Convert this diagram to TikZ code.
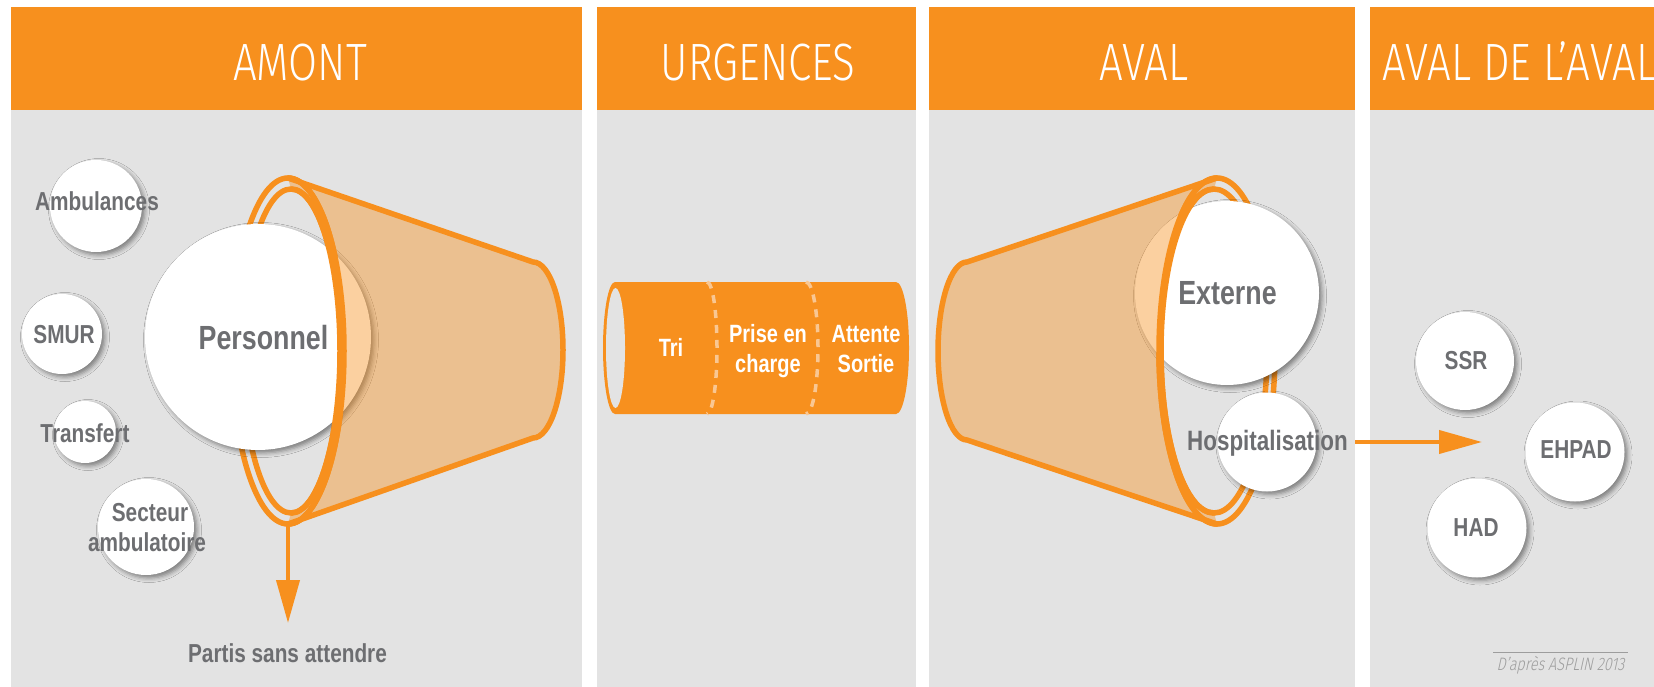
\documentclass[tikz,border=0pt]{standalone}
\usepackage{fontspec}
\usetikzlibrary{arrows.meta,shadows.blur}
\newfontfamily\labelfont[FakeStretch=0.8]{Liberation Sans}
\newfontfamily\headfont[FakeStretch=0.8]{Fira Sans Light}
\newfontfamily\creditfont[FakeStretch=0.8,FakeSlant=0.22]{Fira Sans Light}
\definecolor{brand}{HTML}{F7901E}
\definecolor{panel}{HTML}{E3E3E3}
\definecolor{ink}{HTML}{6D6E71}
\definecolor{dashc}{HTML}{F9C793}
\definecolor{creditc}{HTML}{9D9D9D}
\begin{document}
\begin{tikzpicture}[x=1pt,y=-1pt,
  title/.style={text=white,font=\headfont\fontsize{52.5}{56}\selectfont,inner sep=0pt,anchor=base},
  lbl/.style={text=ink,font=\labelfont\bfseries\fontsize{26}{30}\selectfont,inner sep=0pt,anchor=base},
  biglbl/.style={lbl,font=\labelfont\bfseries\fontsize{33.5}{38}\selectfont},
  tubelbl/.style={lbl,text=white,font=\labelfont\bfseries\fontsize{25}{30}\selectfont},
  bubble/.style={circle,fill=white,inner sep=0pt,
    blur shadow={shadow xshift=3pt,shadow yshift=-3pt,shadow blur radius=4.5pt,shadow opacity=45}},
  ring/.style={draw=brand,line width=5.5pt},
  conefill/.style={fill=brand,fill opacity=0.42},
  coneline/.style={draw=brand,line width=5.5pt,line join=round,line cap=round},
  flow/.style={draw=brand,line width=4pt,-{Triangle[length=43pt,width=23pt]}},
  divider/.style={draw=dashc,line width=3.5pt,dash pattern=on 8pt off 7pt}]
\useasboundingbox (0,0) rectangle (1654,687);
\clip (0,0) rectangle (1654,687);

% column backgrounds and header bars
\foreach \a/\b in {11/582, 597/916, 929/1355, 1370/1700} {
  \fill[brand] (\a,7) rectangle (\b,110);
  \fill[panel] (\a,110) rectangle (\b,687);
}
\node[title] (hAmont) at (300,81) {AMONT};
\node[title] (hUrg) at (758,81) {URGENCES};
\node[title] (hAval) at (1144,81) {AVAL};
\node[title,anchor=base west] (hAvalAval) at (1382,81) {AVAL DE L’AVAL};

% ---- AMONT : entry funnel ----
\draw[ring] (288,351) ellipse [x radius=56pt, y radius=173pt];
\draw[ring] (291,351) ellipse [x radius=49pt, y radius=162pt];

\node[bubble,minimum size=92pt] (amb) at (96,206) {};
\node[bubble,minimum size=80pt] (smur) at (62,334) {};
\node[bubble,minimum size=62pt] (transf) at (85,432) {};
\node[bubble,minimum size=96pt] (sect) at (146,527) {};
\node[bubble,minimum size=226pt] (pers) at (258,337) {};

\fill[conefill] (288,178) -- (533,262)
  arc[start angle=90, end angle=-90, x radius=30pt, y radius=88pt]
  -- (288,524) -- (291,513)
  arc[start angle=-90, end angle=90, x radius=49pt, y radius=162pt] -- cycle;
\draw[coneline] (288,178) -- (533,262)
  arc[start angle=90, end angle=-90, x radius=30pt, y radius=88pt] -- (288,524);
\draw[ring] (288,178) arc[start angle=90, end angle=-90, x radius=56pt, y radius=173pt];
\draw[ring] (291,189) arc[start angle=90, end angle=-90, x radius=49pt, y radius=162pt];

\coordinate (amontRim) at (288,524);
\coordinate (partisTip) at (288,623);
\draw[flow] (amontRim) -- (partisTip);

% ---- URGENCES : tube ----
\fill[brand] (615,282) -- (896,282)
  arc[start angle=90, end angle=-90, x radius=13pt, y radius=66pt]
  -- (615,414)
  arc[start angle=270, end angle=90, x radius=12pt, y radius=66pt] -- cycle;
\fill[panel] (615.5,348) ellipse [x radius=9.5pt, y radius=60pt];
\draw[divider] (707,282) arc[start angle=90, end angle=-90, x radius=10pt, y radius=66pt];
\draw[divider] (806,282) arc[start angle=90, end angle=-90, x radius=12pt, y radius=66pt];

% ---- AVAL : exit funnel ----
\draw[ring] (1217,351) ellipse [x radius=58pt, y radius=173pt];
\draw[ring] (1214,351) ellipse [x radius=53pt, y radius=162pt];

\node[bubble,minimum size=184pt] (ext) at (1227,293) {};
\node[bubble,minimum size=99pt] (hosp) at (1267,442) {};

\fill[conefill] (1217,178) -- (967,262)
  arc[start angle=90, end angle=270, x radius=29pt, y radius=89pt]
  -- (1217,524) -- (1214,513)
  arc[start angle=270, end angle=90, x radius=53pt, y radius=162pt] -- cycle;
\draw[coneline] (1217,178) -- (967,262)
  arc[start angle=90, end angle=270, x radius=29pt, y radius=89pt] -- (1217,524);
\draw[ring] (1217,178) arc[start angle=90, end angle=270, x radius=58pt, y radius=173pt];
\draw[ring] (1214,189) arc[start angle=90, end angle=270, x radius=53pt, y radius=162pt];

% ---- AVAL DE L'AVAL ----
\coordinate (hospOut) at (1355,442);
\coordinate (avalIn) at (1482,442);
\draw[flow] (hospOut) -- (avalIn);

\node[bubble,minimum size=98pt] (ssr) at (1465,361) {};
\node[bubble,minimum size=99pt] (ehpad) at (1575,452) {};
\node[bubble,minimum size=99pt] (had) at (1477,528) {};

% ---- labels ----
\node[lbl] (tAmb) at (97,211) {Ambulances};
\node[lbl] (tSmur) at (64,343) {SMUR};
\node[lbl] (tTransf) at (85,442) {Transfert};
\node[lbl] (tSect) at (150,521) {Secteur};
\node[lbl] (tAmbu) at (147,551) {ambulatoire};
\node[biglbl] (tPers) at (263.5,349) {Personnel};
\node[lbl] (tPartis) at (287.5,662) {Partis sans attendre};

\node[tubelbl] (tTri) at (671,356) {Tri};
\node[tubelbl] (tPrise) at (768,342) {Prise en};
\node[tubelbl] (tCharge) at (768,372) {charge};
\node[tubelbl] (tAtt) at (866,342) {Attente};
\node[tubelbl] (tSortie) at (866,372) {Sortie};

\node[biglbl] (tExt) at (1227.5,304) {Externe};
\node[lbl,font=\labelfont\bfseries\fontsize{28}{32}\selectfont] (tHosp) at (1267.5,450) {Hospitalisation};

\node[lbl] (tSsr) at (1466,369) {SSR};
\node[lbl] (tEhpad) at (1576,458) {EHPAD};
\node[lbl] (tHad) at (1476,536) {HAD};

% source note
\coordinate (noteL) at (1493,652);
\coordinate (noteR) at (1628,652);
\draw[creditc,line width=1pt] (noteL) -- (noteR);
\node[text=creditc,font=\creditfont\fontsize{18}{21}\selectfont,inner sep=0pt,anchor=base] (tNote) at (1560.5,670) {D’après ASPLIN 2013};
\end{tikzpicture}
\end{document}
